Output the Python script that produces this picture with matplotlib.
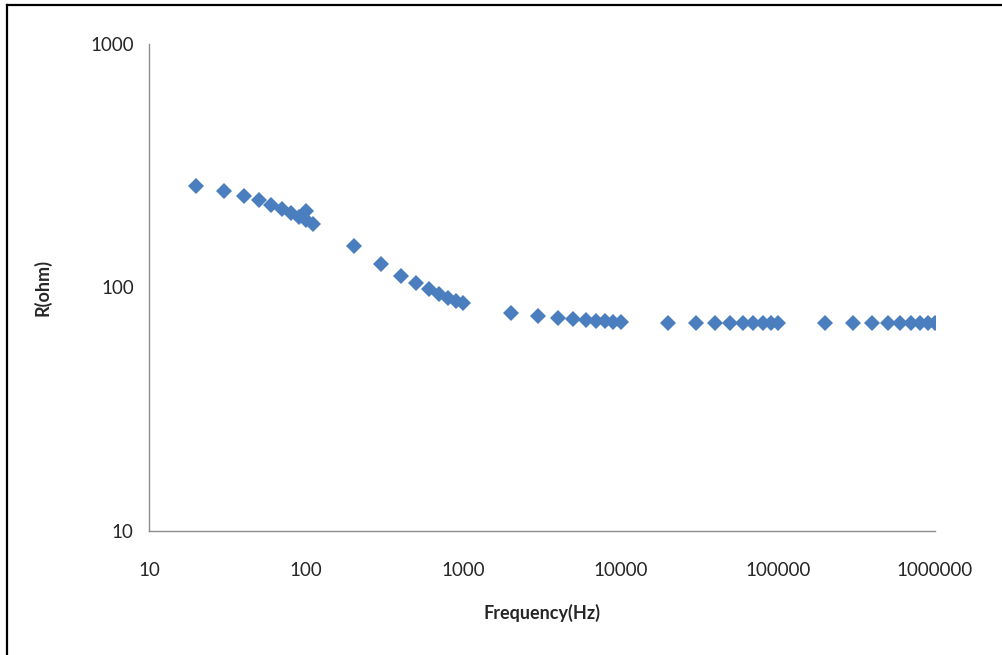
import matplotlib
matplotlib.use("Agg")
import matplotlib.pyplot as plt
from matplotlib.lines import Line2D

# Data
freq_hz = [20, 30, 40, 50, 60, 70, 80, 90, 100, 100, 110,
           200, 300, 400, 500, 600, 700, 800, 900, 1000,
           2000, 3000, 4000, 5000, 6000, 7000, 8000, 9000, 10000,
           20000, 30000, 40000, 50000, 60000, 70000, 80000, 90000, 100000,
           200000, 300000, 400000, 500000, 600000, 700000, 800000, 900000, 1000000]
r_ohm = [261, 250, 238, 229, 219, 210, 202, 194, 189, 207, 182,
         148.5, 124.5, 111.8, 104, 98.3, 94, 90.8, 88, 86.1,
         78.3, 76.4, 74.7, 74.2, 73.5, 73.1, 72.7, 72.4, 72.2,
         71.8, 71.7, 71.6, 71.6, 71.6, 71.5, 71.5, 71.5, 71.5,
         71.6, 71.6, 71.5, 71.5, 71.5, 71.5, 71.5, 71.5, 71.4]

x_ticks = [10, 100, 1000, 10000, 100000, 1000000]
x_tick_labels = ["10", "100", "1000", "10000", "100000", "1000000"]
y_ticks = [10, 100, 1000]
y_tick_labels = ["10", "100", "1000"]
x_label = "Frequency(Hz)"
y_label = "R(ohm)"

plt.rcParams['font.family'] = ['Lato', 'DejaVu Sans']

W, H = 1003, 655
fig = plt.figure(figsize=(W / 100, H / 100), dpi=100)
ax = fig.add_axes([149 / W, 1 - 531 / H, (935 - 149) / W, (531 - 44) / H])

ax.plot(freq_hz, r_ohm, linestyle='none', marker='D', markersize=8.6,
        color='#4A7EBF', markeredgewidth=0)

ax.set_xscale('log')
ax.set_yscale('log')
ax.set_xlim(10, 1000000)
ax.set_ylim(10, 1000)
ax.set_xticks(x_ticks)
ax.set_xticklabels(x_tick_labels)
ax.set_yticks(y_ticks)
ax.set_yticklabels(y_tick_labels)
ax.minorticks_off()
ax.tick_params(axis='both', length=0, labelsize=13.5, colors='#262626')
ax.tick_params(axis='x', pad=22)
ax.tick_params(axis='y', pad=11)

for s in ['top', 'right']:
    ax.spines[s].set_visible(False)
for s in ['left', 'bottom']:
    ax.spines[s].set_color('#8C8C8C')
    ax.spines[s].set_linewidth(1.0)

ax.set_xlabel(x_label, fontsize=13, fontweight='bold', color='#262626', labelpad=18)
ax.set_ylabel(y_label, fontsize=13, fontweight='bold', color='#262626', labelpad=28)

# outer frame (left and top edges visible; right/bottom cut off in reference)
fig.add_artist(Line2D([7 / W, 7 / W], [1 - 5 / H, -0.1], transform=fig.transFigure,
                      color='black', linewidth=1.6))
fig.add_artist(Line2D([7 / W, 1.1], [1 - 5 / H, 1 - 5 / H], transform=fig.transFigure,
                      color='black', linewidth=1.6))

fig.savefig("out.png", dpi=100)
